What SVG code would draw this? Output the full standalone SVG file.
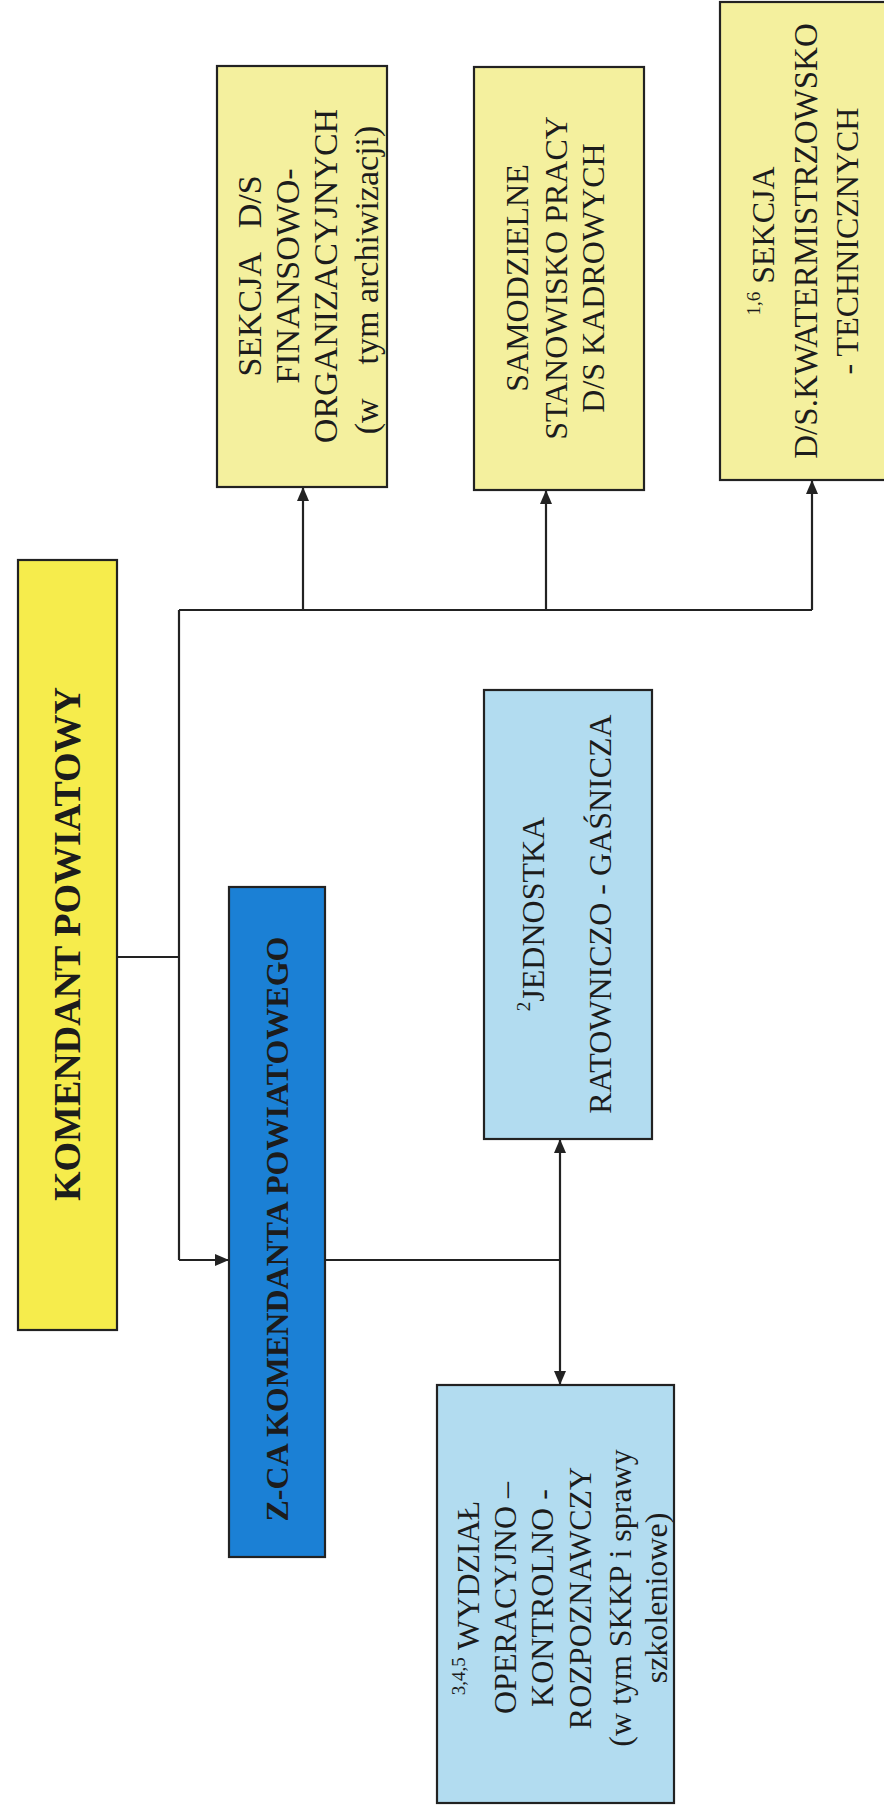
<svg xmlns="http://www.w3.org/2000/svg" width="884" height="1814" viewBox="0 0 884 1814">
<style>
.box{stroke:#222;stroke-width:2.2}
.ky{fill:#f6ec4c}
.py{fill:#f4f09e}
.lb{fill:#b2dcf0}
.db{fill:#1b80d5}
.t{font-family:"Liberation Serif","Times New Roman",serif;font-size:32px;fill:#1c1c1c;text-anchor:middle;dominant-baseline:central}
.s34{font-size:34px}
.bd{font-weight:bold}
.sup{font-size:19px}
.cn{stroke:#222;stroke-width:2.2;fill:none}
</style>
<defs>
<marker id="ah" viewBox="0 0 14 12" refX="14" refY="6" markerWidth="14" markerHeight="12" markerUnits="userSpaceOnUse" orient="auto-start-reverse">
<path d="M0,0 L14,6 L0,12 z" fill="#222"/>
</marker>
</defs>
<rect width="884" height="1814" fill="#ffffff"/>

<g id="connectors">
<line class="cn" x1="117" y1="957" x2="179" y2="957"/>
<line class="cn" x1="179" y1="610" x2="179" y2="1260"/>
<line class="cn" x1="179" y1="1260" x2="229" y2="1260" marker-end="url(#ah)"/>
<line class="cn" x1="179" y1="610" x2="812" y2="610"/>
<line class="cn" x1="303" y1="610" x2="303" y2="487" marker-end="url(#ah)"/>
<line class="cn" x1="546" y1="610" x2="546" y2="490" marker-end="url(#ah)"/>
<line class="cn" x1="812" y1="610" x2="812" y2="480" marker-end="url(#ah)"/>
<line class="cn" x1="325" y1="1260" x2="560" y2="1260"/>
<line class="cn" x1="560" y1="1139" x2="560" y2="1385" marker-start="url(#ah)" marker-end="url(#ah)"/>
</g>

<g id="komendant">
<rect class="box ky" x="18" y="560" width="99" height="770"/>
<text class="t bd" transform="rotate(-90)" x="-944" y="67" style="font-size:38px">KOMENDANT POWIATOWY</text>
</g>

<g id="zastepca">
<rect class="box db" x="229" y="887" width="96" height="670"/>
<text class="t bd" transform="rotate(-90)" x="-1229" y="277">Z-CA KOMENDANTA POWIATOWEGO</text>
</g>

<g id="sekcja-fin">
<rect class="box py" x="217" y="66" width="170" height="421"/>
<g transform="rotate(-90)">
<text class="t s34" x="-276" y="249" xml:space="preserve">SEKCJA   D/S</text>
<text class="t s34" x="-276" y="287">FINANSOWO-</text>
<text class="t s34" x="-276" y="325">ORGANIZACYJNYCH</text>
<text class="t s34" x="-280" y="366" xml:space="preserve">(w    tym archiwizacji)</text>
</g>
</g>

<g id="kadry">
<rect class="box py" x="474" y="67" width="170" height="423"/>
<g transform="rotate(-90)">
<text class="t" x="-278" y="517">SAMODZIELNE</text>
<text class="t" x="-278" y="556">STANOWISKO PRACY</text>
<text class="t" x="-278" y="593">D/S KADROWYCH</text>
</g>
</g>

<g id="kwatermistrz">
<rect class="box py" x="720" y="2" width="180" height="478"/>
<g transform="rotate(-90)">
<text class="t" x="-241" y="763"><tspan class="sup" dy="-10">1,6</tspan><tspan dy="10"> SEKCJA</tspan></text>
<text class="t" x="-241" y="806" style="font-size:33px">D/S.KWATERMISTRZOWSKO</text>
<text class="t" x="-241" y="847">- TECHNICZNYCH</text>
</g>
</g>

<g id="jednostka">
<rect class="box lb" x="484" y="690" width="168" height="449"/>
<g transform="rotate(-90)">
<text class="t" x="-914" y="533"><tspan class="sup" dy="-10">2</tspan><tspan dy="10">JEDNOSTKA</tspan></text>
<text class="t" x="-914" y="600">RATOWNICZO - GAŚNICZA</text>
</g>
</g>

<g id="wydzial">
<rect class="box lb" x="437" y="1385" width="237" height="418"/>
<g transform="rotate(-90)">
<text class="t" x="-1598" y="468"><tspan class="sup" dy="-10">3,4,5</tspan><tspan dy="10"> WYDZIAŁ</tspan></text>
<text class="t" x="-1598" y="505">OPERACYJNO –</text>
<text class="t" x="-1598" y="542">KONTROLNO -</text>
<text class="t" x="-1598" y="580">ROZPOZNAWCZY</text>
<text class="t" x="-1598" y="620">(w tym SKKP i sprawy</text>
<text class="t" x="-1598" y="656">szkoleniowe)</text>
</g>
</g>
</svg>
